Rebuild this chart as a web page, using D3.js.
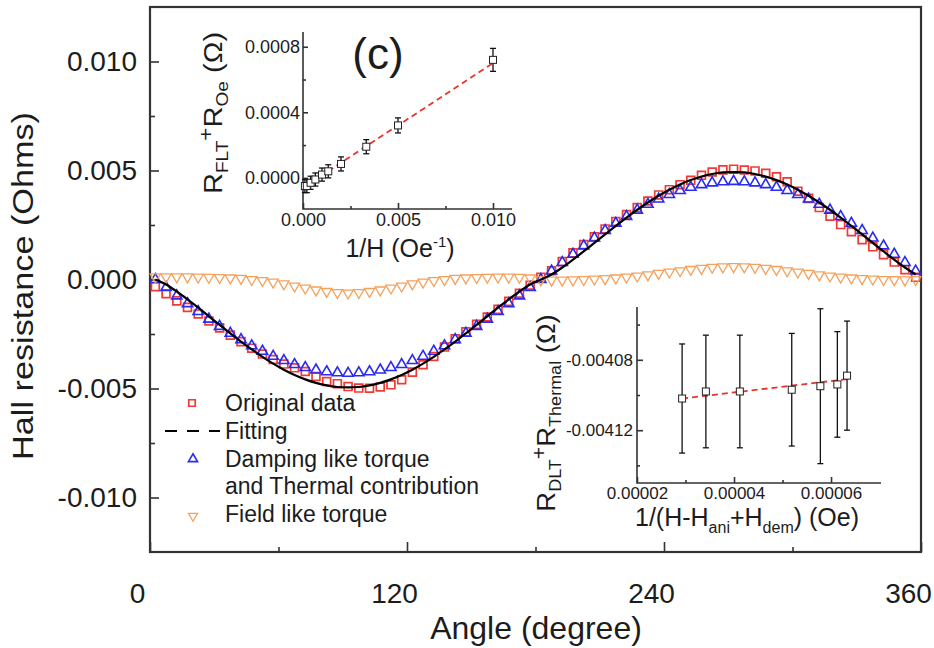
<!DOCTYPE html>
<html><head><meta charset="utf-8">
<script src="https://cdn.jsdelivr.net/npm/d3@7"></script>
<style>
body{margin:0;background:#fff}
svg{display:block}
text{font-family:"Liberation Sans",Arial,sans-serif;fill:#1c1c1c}
</style>
</head><body>
<svg id="c" width="934" height="648"></svg>
<script>
// ---------------- main data ----------------
const angles=[2.5,7.5,12.5,17.5,22.5,27.5,32.5,37.5,42.5,47.5,
52.5,57.5,62.5,67.5,72.5,77.5,82.5,87.5,92.5,97.5,
102.5,107.5,112.5,117.5,122.5,127.5,132.5,137.5,142.5,147.5,
152.5,157.5,162.5,167.5,172.5,177.5,182.5,187.5,192.5,197.5,
202.5,207.5,212.5,217.5,222.5,227.5,232.5,237.5,242.5,247.5,
252.5,257.5,262.5,267.5,272.5,277.5,282.5,287.5,292.5,297.5,
302.5,307.5,312.5,317.5,322.5,327.5,332.5,337.5,342.5,347.5,
352.5,357.5];
const originalData=[-0.00033,-0.00065,-0.00098,-0.00128,-0.00158,-0.00190,-0.00222,-0.00255,-0.00285,-0.00315,-0.00342,-0.00367,-0.00388,-0.00405,
-0.00422,-0.00445,-0.00468,-0.00478,-0.00491,-0.00498,-0.00499,-0.00493,-0.00483,-0.00460,-0.00425,-0.00391,-0.00353,-0.00310,
-0.00272,-0.00240,-0.00206,-0.00172,-0.00137,-0.00100,-0.00063,-0.00026,0.00010,
0.00040,0.00082,0.00122,0.00160,0.00196,0.00232,0.00266,0.00298,0.00330,0.00360,0.00388,0.00412,0.00435,
0.00455,0.00478,0.00493,0.00503,0.00506,0.00502,0.00498,0.00487,0.00471,
0.00448,0.00405,0.00372,0.00330,0.00290,0.00252,0.00219,0.00183,0.00150,0.00114,0.00080,0.00045,0.00010];
const fitting=[0.00000,-0.00023,-0.00055,-0.00091,-0.00129,-0.00169,-0.00208,-0.00247,-0.00285,-0.00321,-0.00355,-0.00386,-0.00414,-0.00438,-0.00458,-0.00474,-0.00486,-0.00493,-0.00495,
-0.00493,-0.00486,-0.00474,-0.00458,-0.00438,-0.00414,-0.00386,-0.00355,-0.00321,-0.00285,-0.00247,-0.00208,-0.00169,-0.00129,-0.00091,-0.00055,-0.00023,
0.00000,0.00023,0.00055,0.00091,0.00129,0.00168,0.00207,0.00246,0.00284,0.00320,0.00353,0.00384,0.00412,0.00436,0.00456,0.00472,0.00484,0.00491,0.00493,
0.00491,0.00484,0.00472,0.00456,0.00436,0.00412,0.00384,0.00353,0.00320,0.00284,0.00246,0.00207,0.00168,0.00129,0.00091,0.00055,0.00023];
const dampingThermal=[0.00000,-0.00037,-0.00075,-0.00111,-0.00147,-0.00182,-0.00215,-0.00247,-0.00276,-0.00304,-0.00329,-0.00352,-0.00372,-0.00390,-0.00404,-0.00415,-0.00423,-0.00428,-0.00430,-0.00428,-0.00423,-0.00415,-0.00404,-0.00390,-0.00372,-0.00352,-0.00329,-0.00304,-0.00276,-0.00247,-0.00215,-0.00182,-0.00147,-0.00111,-0.00075,-0.00037,0.00000,
0.00039,0.00078,0.00116,0.00154,0.00190,0.00225,0.00258,0.00289,0.00318,0.00345,0.00369,0.00390,0.00408,0.00423,0.00435,0.00443,0.00448,0.00450,0.00448,0.00443,0.00435,0.00423,0.00408,0.00390,0.00369,0.00345,0.00318,0.00289,0.00258,0.00225,0.00190,0.00154,0.00116,0.00078,0.00039];
const fieldLike=[0.00012,0.00012,0.00012,0.00012,0.00011,0.00010,0.00009,0.00007,0.00005,0.00000,-0.00005,-0.00012,-0.00020,-0.00030,-0.00039,-0.00048,-0.00055,-0.00060,-0.00062,-0.00060,-0.00055,-0.00048,-0.00039,-0.00030,-0.00020,-0.00012,-0.00005,0.00000,0.00005,0.00007,0.00009,0.00010,0.00011,0.00011,0.00010,0.00007,
-0.00002,-0.00003,-0.00003,-0.00002,0.00000,0.00002,0.00004,0.00007,0.00011,0.00016,0.00021,0.00028,0.00034,0.00040,0.00046,0.00051,0.00056,0.00058,0.00059,0.00058,0.00056,0.00051,0.00046,0.00040,0.00034,0.00028,0.00021,0.00016,0.00011,0.00007,0.00004,0.00002,0.00000,-0.00001,-0.00002,0.00000];
const xTicks=[0,120,240,360], xMinor=[60,180,300];
const yTicks=[-0.01,-0.005,0,0.005,0.01], yMinor=[-0.0075,-0.0025,0.0025,0.0075];
const legendLabels=["Original data","Fitting","Damping like torque","and Thermal contribution","Field like torque"];

// ---------------- inset 1 (field-like) ----------------
const invH=[0.0001,0.0002,0.0004,0.00065,0.001,0.00133,0.002,0.00333,0.005,0.01];
const rFLT=[-0.00005,-0.00005,-0.00003,-0.00001,0.00002,0.00004,0.000085,0.00019,0.00032,0.00072];
const rFLTerr=[0.00004,0.00004,0.00004,0.00004,0.00004,0.00004,0.000043,0.000043,0.000046,0.00007];
const flFitX=[0,0.01], flFitY=[-0.00006,0.0007];
const in1XTicks=[0,0.005,0.01], in1XMinor=[0.0025,0.0075];
const in1YTicks=[0,0.0004,0.0008], in1YMinor=[0.0002,0.0006];

// ---------------- inset 2 (damping-like) ----------------
const invHeff=[0.0000293,0.0000342,0.0000412,0.0000519,0.0000578,0.0000613,0.0000633];
const rDLT=[-0.004102,-0.004098,-0.004098,-0.004097,-0.004095,-0.004094,-0.004089];
const rDLTerr=[0.000031,0.000032,0.000032,0.000032,0.000044,0.000030,0.000031];
const dlFitX=[0.0000293,0.0000633], dlFitY=[-0.004102,-0.004091];
const in2XTicks=[0.00002,0.00004,0.00006], in2XMinor=[0.00003,0.00005];
const in2YTicks=[-0.00408,-0.00412], in2YMinor=[-0.00406,-0.0041,-0.00414];

// ---------------- drawing ----------------
const svg=d3.select("#c");
const AX="#333";
const FONT='"Liberation Sans",Arial,sans-serif';

const x=d3.scaleLinear([0,360],[150,921]);
const y=d3.scaleLinear([-0.0125,0.0125],[552,7]);

function styleAxis(g,fs){
  g.attr("font-size",fs).attr("font-family",FONT).attr("color","#1c1c1c");
  g.select(".domain").remove();
  g.selectAll("line").attr("stroke",AX).attr("stroke-width",1.6);
}

// main axes
svg.append("g").attr("transform","translate(150,0)")
  .call(d3.axisLeft(y).tickValues(yTicks).tickSize(-9).tickSizeOuter(0).tickPadding(13).tickFormat(d=>d.toFixed(3)))
  .call(g=>styleAxis(g,28));
svg.append("g").attr("transform","translate(150,0)")
  .call(d3.axisLeft(y).tickValues(yMinor).tickSize(-5).tickSizeOuter(0).tickFormat(""))
  .call(g=>styleAxis(g,10));
svg.append("g").attr("transform","translate(0,552)")
  .call(d3.axisBottom(x).tickValues(xTicks).tickSize(-10).tickSizeOuter(0).tickPadding(31).tickFormat(d3.format("d")))
  .call(g=>styleAxis(g,28))
  .call(g=>g.selectAll("text").attr("dx",-13));
svg.append("g").attr("transform","translate(0,552)")
  .call(d3.axisBottom(x).tickValues(xMinor).tickSize(-5).tickSizeOuter(0).tickFormat(""))
  .call(g=>styleAxis(g,10));

svg.append("rect").attr("x",150).attr("y",7).attr("width",771).attr("height",545)
  .attr("fill","none").attr("stroke",AX).attr("stroke-width",2.2);

svg.append("text").attr("x",536).attr("y",639).attr("text-anchor","middle").attr("font-size",32).text("Angle (degree)");
svg.append("text").attr("transform","translate(33,286) rotate(-90) scale(1.18,1)")
  .attr("text-anchor","middle").attr("font-size",29).text("Hall resistance (Ohms)");

// main series
const sym=(t,s)=>d3.symbol().type(t).size(s)();
const RED="#ee3b36", BLUE="#2a2af2", ORANGE="#f5a15c";
const pts=angles.map((a,i)=>({a,o:originalData[i],f:fitting[i],d:dampingThermal[i],l:fieldLike[i]}));

svg.append("g").selectAll("path").data(pts).join("path")
  .attr("d",sym(d3.symbolSquare,62))
  .attr("transform",d=>`translate(${x(d.a)},${y(d.o)})`)
  .attr("fill","none").attr("stroke",RED).attr("stroke-width",1.7);

svg.append("g").selectAll("path").data(pts).join("path")
  .attr("d",sym(d3.symbolTriangle,46))
  .attr("transform",d=>`translate(${x(d.a)},${y(d.d)})`)
  .attr("fill","none").attr("stroke",BLUE).attr("stroke-width",1.6);

svg.append("g").selectAll("path").data(pts).join("path")
  .attr("d",sym(d3.symbolTriangle,46))
  .attr("transform",d=>`translate(${x(d.a)},${y(d.l)}) rotate(180)`)
  .attr("fill","none").attr("stroke",ORANGE).attr("stroke-width",1.3);

svg.append("path").datum(pts)
  .attr("d",d3.line().x(d=>x(d.a)).y(d=>y(d.f)).curve(d3.curveCatmullRom))
  .attr("fill","none").attr("stroke","#000").attr("stroke-width",2.2);

// legend
const lg=svg.append("g").attr("font-size",23);
lg.append("path").attr("d",sym(d3.symbolSquare,42)).attr("transform","translate(192,403)")
  .attr("fill","none").attr("stroke",RED).attr("stroke-width",1.7);
lg.append("line").attr("x1",165).attr("x2",220).attr("y1",431).attr("y2",431)
  .attr("stroke","#000").attr("stroke-width",2.2).attr("stroke-dasharray","12,10");
lg.append("path").attr("d",sym(d3.symbolTriangle,36)).attr("transform","translate(193,459)")
  .attr("fill","none").attr("stroke",BLUE).attr("stroke-width",1.6);
lg.append("path").attr("d",sym(d3.symbolTriangle,36)).attr("transform","translate(193,516) rotate(180)")
  .attr("fill","none").attr("stroke",ORANGE).attr("stroke-width",1.3);
const lgY=[411,439,467,494,522];
legendLabels.forEach((t,i)=>lg.append("text").attr("x",225).attr("y",lgY[i]).text(t));

// ---------------- inset 1 ----------------
const x1=d3.scaleLinear([0,0.011],[303,512]);
const y1=d3.scaleLinear([-0.00019,0.00089],[209,32]);
const i1=svg.append("g");
i1.append("g").attr("transform","translate(303,0)")
  .call(d3.axisLeft(y1).tickValues(in1YTicks).tickSize(-5).tickSizeOuter(0).tickPadding(3).tickFormat(d=>d.toFixed(4)))
  .call(g=>styleAxis(g,18));
i1.append("g").attr("transform","translate(303,0)")
  .call(d3.axisLeft(y1).tickValues(in1YMinor).tickSize(-3).tickSizeOuter(0).tickFormat(""))
  .call(g=>styleAxis(g,10));
i1.append("g").attr("transform","translate(0,209)")
  .call(d3.axisBottom(x1).tickValues(in1XTicks).tickSize(-6).tickSizeOuter(0).tickPadding(4).tickFormat(d=>d.toFixed(3)))
  .call(g=>styleAxis(g,18));
i1.append("g").attr("transform","translate(0,209)")
  .call(d3.axisBottom(x1).tickValues(in1XMinor).tickSize(-3).tickSizeOuter(0).tickFormat(""))
  .call(g=>styleAxis(g,10));
i1.append("path").attr("d",`M303,32V209H512`).attr("fill","none").attr("stroke",AX).attr("stroke-width",1.6);

i1.append("line").attr("x1",x1(flFitX[0])).attr("y1",y1(flFitY[0])).attr("x2",x1(flFitX[1])).attr("y2",y1(flFitY[1]))
  .attr("stroke","#e8332e").attr("stroke-width",1.8).attr("stroke-dasharray","6,4");
const p1=invH.map((v,i)=>({x:v,y:rFLT[i],e:rFLTerr[i]}));
const eb1=i1.append("g").attr("stroke","#111").attr("stroke-width",1.3);
p1.forEach(d=>{
  const cx=x1(d.x),t=y1(d.y+d.e),b=y1(d.y-d.e);
  eb1.append("line").attr("x1",cx).attr("x2",cx).attr("y1",t).attr("y2",b);
  eb1.append("line").attr("x1",cx-3).attr("x2",cx+3).attr("y1",t).attr("y2",t);
  eb1.append("line").attr("x1",cx-3).attr("x2",cx+3).attr("y1",b).attr("y2",b);
});
i1.append("g").selectAll("rect").data(p1).join("rect")
  .attr("x",d=>x1(d.x)-3.5).attr("y",d=>y1(d.y)-3.5).attr("width",7).attr("height",7)
  .attr("fill","#fff").attr("stroke","#222").attr("stroke-width",1);

const t1=i1.append("text").attr("x",400).attr("y",257).attr("text-anchor","middle").attr("font-size",25);
t1.append("tspan").text("1/H (Oe");
t1.append("tspan").attr("font-size",15).attr("dy",-10).text("-1");
t1.append("tspan").attr("dy",10).text(")");

const yt1=i1.append("text").attr("transform","translate(222,113) rotate(-90) scale(1.12,1)")
  .attr("text-anchor","middle").attr("font-size",26);
yt1.append("tspan").text("R");
yt1.append("tspan").attr("font-size",17).attr("dy",6).text("FLT");
yt1.append("tspan").attr("font-size",20).attr("dy",-15).text("+");
yt1.append("tspan").attr("dy",9).text("R");
yt1.append("tspan").attr("font-size",17).attr("dy",6).text("Oe");
yt1.append("tspan").attr("dy",-6).text(" (Ω)");

svg.append("text").attr("x",378).attr("y",69).attr("text-anchor","middle").attr("font-size",44).text("(c)");

// ---------------- inset 2 ----------------
const x2=d3.scaleLinear([0.00002,0.0000703],[637,881]);
const y2=d3.scaleLinear([-0.00415,-0.00405],[483,307]);
const i2=svg.append("g");
i2.append("g").attr("transform","translate(637,0)")
  .call(d3.axisLeft(y2).tickValues(in2YTicks).tickSize(-6).tickSizeOuter(0).tickPadding(4).tickFormat(d=>d.toFixed(5)))
  .call(g=>styleAxis(g,17));
i2.append("g").attr("transform","translate(637,0)")
  .call(d3.axisLeft(y2).tickValues(in2YMinor).tickSize(-3).tickSizeOuter(0).tickFormat(""))
  .call(g=>styleAxis(g,10));
i2.append("g").attr("transform","translate(0,483)")
  .call(d3.axisBottom(x2).tickValues(in2XTicks).tickSize(-6).tickSizeOuter(0).tickPadding(4).tickFormat(d=>d.toFixed(5)))
  .call(g=>styleAxis(g,17));
i2.append("g").attr("transform","translate(0,483)")
  .call(d3.axisBottom(x2).tickValues(in2XMinor).tickSize(-3).tickSizeOuter(0).tickFormat(""))
  .call(g=>styleAxis(g,10));
i2.append("path").attr("d",`M637,307V483H881`).attr("fill","none").attr("stroke",AX).attr("stroke-width",1.6);

i2.append("line").attr("x1",x2(dlFitX[0])).attr("y1",y2(dlFitY[0])).attr("x2",x2(dlFitX[1])).attr("y2",y2(dlFitY[1]))
  .attr("stroke","#e8332e").attr("stroke-width",1.8).attr("stroke-dasharray","6,4");
const p2=invHeff.map((v,i)=>({x:v,y:rDLT[i],e:rDLTerr[i]}));
const eb2=i2.append("g").attr("stroke","#111").attr("stroke-width",1.3);
p2.forEach(d=>{
  const cx=x2(d.x),t=y2(d.y+d.e),b=y2(d.y-d.e);
  eb2.append("line").attr("x1",cx).attr("x2",cx).attr("y1",t).attr("y2",b);
  eb2.append("line").attr("x1",cx-3).attr("x2",cx+3).attr("y1",t).attr("y2",t);
  eb2.append("line").attr("x1",cx-3).attr("x2",cx+3).attr("y1",b).attr("y2",b);
});
i2.append("g").selectAll("rect").data(p2).join("rect")
  .attr("x",d=>x2(d.x)-3.5).attr("y",d=>y2(d.y)-3.5).attr("width",7).attr("height",7)
  .attr("fill","#fff").attr("stroke","#222").attr("stroke-width",1);

const t2=i2.append("text").attr("x",747).attr("y",526).attr("text-anchor","middle").attr("font-size",25);
t2.append("tspan").text("1/(H-H");
t2.append("tspan").attr("font-size",16).attr("dy",7).text("ani");
t2.append("tspan").attr("dy",-7).text("+H");
t2.append("tspan").attr("font-size",16).attr("dy",7).text("dem");
t2.append("tspan").attr("dy",-7).text(") (Oe)");

const yt2=i2.append("text").attr("transform","translate(555,413) rotate(-90) scale(1.06,1)")
  .attr("text-anchor","middle").attr("font-size",26);
yt2.append("tspan").text("R");
yt2.append("tspan").attr("font-size",17).attr("dy",6).text("DLT");
yt2.append("tspan").attr("font-size",20).attr("dy",-15).text("+");
yt2.append("tspan").attr("dy",9).text("R");
yt2.append("tspan").attr("font-size",17).attr("dy",6).text("Thermal");
yt2.append("tspan").attr("dy",-6).text(" (Ω)");
</script>
</body></html>
